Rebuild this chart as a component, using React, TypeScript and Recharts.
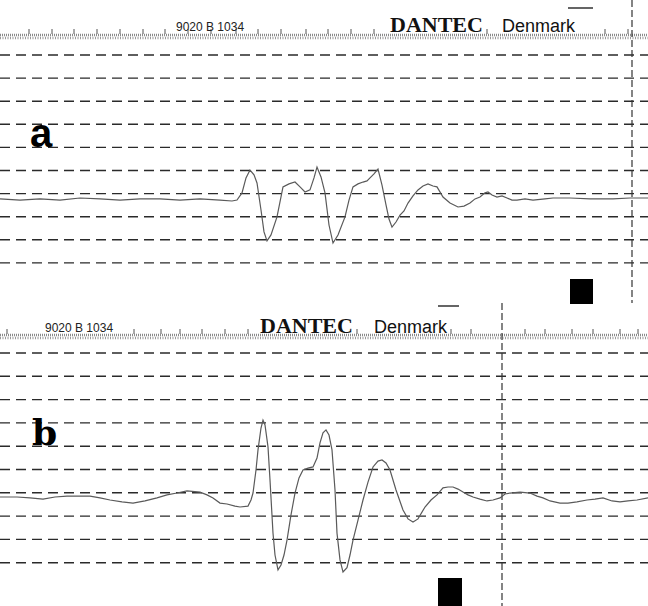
import React from "react";
import { LineChart, Line, XAxis, YAxis, ReferenceLine, ReferenceArea } from "recharts";

// ---- data (time in screen-time units, amplitude in grid divisions) ----
const timeA = [0, 20, 40, 60, 80, 100, 120, 140, 160, 180, 200, 220, 232, 237, 242, 246, 250, 254, 257, 261, 264, 267, 271, 277, 283, 289, 295, 300, 305, 310, 314, 317, 321, 325, 329, 333, 338, 345, 349, 353, 358, 363, 367, 370, 374, 378, 382, 386, 389, 392, 396, 400, 404, 408, 413, 418, 423, 428, 433, 437, 443, 450, 458, 464, 470, 475, 480, 485, 488, 492, 497, 502, 507, 512, 517, 525, 533, 545, 553, 570, 590, 613, 630, 648];
const ampA = [-0.23, -0.28, -0.23, -0.28, -0.19, -0.23, -0.28, -0.23, -0.23, -0.28, -0.23, -0.28, -0.32, -0.28, 0.03, 0.68, 1.02, 0.81, 0.46, -0.71, -1.66, -2.05, -1.79, -1.01, 0.29, 0.42, 0.5, 0.29, 0.07, 0.16, 0.68, 1.15, 0.72, 0.03, -1.36, -2.14, -1.79, -1.01, -0.28, 0.29, 0.42, 0.5, 0.55, 0.68, 0.85, 1.06, 0.37, -0.49, -1.1, -1.45, -1.23, -0.93, -0.75, -0.41, -0.1, 0.16, 0.33, 0.42, 0.33, 0.29, -0.15, -0.41, -0.58, -0.54, -0.41, -0.23, -0.15, 0.03, 0.07, -0.06, -0.15, -0.1, -0.19, -0.28, -0.28, -0.23, -0.28, -0.23, -0.19, -0.19, -0.23, -0.23, -0.19, -0.19];

const timeB = [0, 17, 30, 43, 55, 67, 80, 90, 100, 110, 122, 133, 145, 157, 167, 177, 187, 200, 207, 213, 220, 227, 235, 240, 248, 251, 253, 256, 258, 261, 263, 265, 268, 270, 273, 275, 278, 281, 284, 287, 291, 295, 299, 303, 308, 313, 317, 320, 323, 326, 329, 332, 335, 337, 340, 343, 347, 350, 353, 358, 363, 368, 373, 378, 382, 386, 390, 396, 403, 408, 413, 418, 425, 431, 437, 443, 448, 453, 458, 463, 468, 473, 480, 487, 493, 500, 505, 510, 520, 530, 537, 543, 550, 560, 568, 577, 587, 595, 603, 612, 620, 628, 637, 648];
const ampB = [-0.18, -0.18, -0.22, -0.27, -0.18, -0.14, -0.14, -0.14, -0.22, -0.31, -0.39, -0.44, -0.35, -0.22, -0.09, -0.01, 0.08, 0.03, -0.09, -0.22, -0.44, -0.48, -0.57, -0.61, -0.57, -0.31, -0.01, 0.98, 1.84, 2.78, 3.12, 2.91, 1.97, 0.55, -1.73, -2.67, -3.31, -3.1, -2.67, -2.03, -0.95, -0.01, 0.64, 0.98, 1.06, 1.11, 1.49, 2.14, 2.57, 2.7, 2.48, 1.84, 0.12, -1.73, -2.88, -3.4, -3.21, -2.67, -2.03, -1.17, -0.31, 0.46, 1.11, 1.36, 1.41, 1.28, 0.98, 0.12, -0.74, -1.12, -1.25, -1.12, -0.61, -0.31, -0.09, 0.21, 0.25, 0.25, 0.16, 0.03, -0.09, -0.18, -0.27, -0.35, -0.31, -0.22, -0.05, -0.01, 0.03, -0.01, -0.14, -0.22, -0.35, -0.44, -0.44, -0.39, -0.31, -0.27, -0.22, -0.35, -0.39, -0.35, -0.31, -0.22];

const gridValues = [6, 5, 4, 3, 2, 1, 0, -1, -2, -3];
const ticksA = [29, 52, 74, 97, 120, 143, 165, 188, 211, 236, 258, 281, 306, 328, 351, 374, 487, 605, 628];
const ticksB = [7, 134, 161, 180, 202, 225, 248, 357, 451, 471, 525, 545, 572, 593, 620, 638];

const labelA = "a";
const labelB = "b";
const codeText = "9020 B 1034";
const brandText = "DANTEC";
const countryText = "Denmark";

const W = 648;
const H = 306;

type PanelProps = {
  top: number;
  times: number[];
  amps: number[];
  firstLine: number;
  spacing: number;
  bandY: number;
  ticks: number[];
  cursorX: number;
  cursorFrom: number;
  cursorTo: number;
  square: [number, number, number, number];
  overline: [number, number, number];
};

function Panel(p: PanelProps) {
  const base = p.firstLine + p.spacing * 6;
  const v = (px: number) => (base - px) / p.spacing;
  const domain: [number, number] = [v(H), v(0)];
  const data = p.times.map((t, i) => ({ t, v: p.amps[i] }));
  return (
    <div style={{ position: "absolute", left: 0, top: p.top, width: W, height: H }}>
      <LineChart width={W} height={H} data={data} margin={{ top: 0, right: 0, bottom: 0, left: 0 }}>
        <XAxis hide type="number" dataKey="t" domain={[0, W]} allowDataOverflow />
        <YAxis hide type="number" domain={domain} allowDataOverflow />
        {gridValues.map((g) => (
          <ReferenceLine key={"g" + g} y={g} stroke="#2a2a2a" strokeWidth={1.4} strokeDasharray="10 6" />
        ))}
        <ReferenceLine y={v(p.bandY)} stroke="#8a8a8a" strokeWidth={2.5} strokeDasharray="1 1" />
        <ReferenceLine y={v(p.bandY + 3)} stroke="#9a9a9a" strokeWidth={2.5} strokeDasharray="1 1.5" />
        {p.ticks.map((x) => (
          <ReferenceLine
            key={"t" + x}
            segment={[{ x, y: v(p.bandY - 1) }, { x, y: v(p.bandY - 6) }]}
            stroke="#555"
            strokeWidth={1}
          />
        ))}
        <ReferenceLine
          segment={[{ x: p.overline[0], y: v(p.overline[2]) }, { x: p.overline[1], y: v(p.overline[2]) }]}
          stroke="#111"
          strokeWidth={1.3}
        />
        <ReferenceLine
          segment={[{ x: p.cursorX, y: v(p.cursorFrom) }, { x: p.cursorX, y: v(p.cursorTo) }]}
          stroke="#333"
          strokeWidth={1.2}
          strokeDasharray="7 3"
        />
        <ReferenceArea
          x1={p.square[0]}
          x2={p.square[1]}
          y1={v(p.square[3])}
          y2={v(p.square[2])}
          fill="#000"
          fillOpacity={1}
          stroke="none"
        />
        <Line
          type="linear"
          dataKey="v"
          stroke="#5a5a5a"
          strokeWidth={1.2}
          dot={false}
          activeDot={false}
          isAnimationActive={false}
        />
      </LineChart>
    </div>
  );
}

function Texts() {
  return (
    <svg width={W} height={606} style={{ position: "absolute", left: 0, top: 0, pointerEvents: "none" }}>
      <text x={176} y={31} fontFamily="Liberation Sans, Arial" fontSize={12} fill="#222">{codeText}</text>
      <text x={390} y={32} fontFamily="Liberation Serif, Times New Roman" fontWeight="bold" fontSize={22} fill="#111">{brandText}</text>
      <text x={502} y={32} fontFamily="Liberation Sans, Arial" fontSize={18} fill="#111">{countryText}</text>
      <text x={30} y={147} fontFamily="Liberation Sans, Arial" fontWeight="bold" fontSize={40} fill="#000">{labelA}</text>

      <text x={45} y={332} fontFamily="Liberation Sans, Arial" fontSize={12} fill="#222">{codeText}</text>
      <text x={260} y={333} fontFamily="Liberation Serif, Times New Roman" fontWeight="bold" fontSize={22} fill="#111">{brandText}</text>
      <text x={374} y={333} fontFamily="Liberation Sans, Arial" fontSize={18} fill="#111">{countryText}</text>
      <text x={32} y={445} fontFamily="DejaVu Serif, Liberation Serif" fontWeight="bold" fontSize={36} fill="#000">{labelB}</text>
    </svg>
  );
}

export default function App() {
  return (
    <div style={{ position: "absolute", left: 0, top: 0, width: W, height: 606, background: "#fff", overflow: "hidden" }}>
      <Panel
        top={0}
        times={timeA}
        amps={ampA}
        firstLine={55}
        spacing={23.1}
        bandY={35}
        ticks={ticksA}
        cursorX={632}
        cursorFrom={0}
        cursorTo={303}
        square={[570, 593, 279, 304]}
        overline={[568, 593, 8]}
      />
      <Panel
        top={300}
        times={timeB}
        amps={ampB}
        firstLine={53}
        spacing={23.3}
        bandY={35}
        ticks={ticksB}
        cursorX={502}
        cursorFrom={3}
        cursorTo={306}
        square={[438, 462, 278, 306]}
        overline={[438, 459, 6]}
      />
      <Texts />
    </div>
  );
}
